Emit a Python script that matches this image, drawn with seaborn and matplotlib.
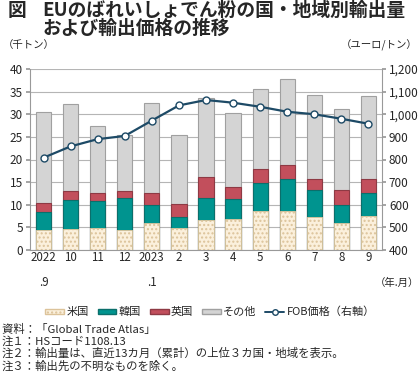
import numpy as np
import pandas as pd
import matplotlib
matplotlib.use("Agg")
import matplotlib.pyplot as plt
import seaborn as sns
from matplotlib.patches import Patch
from matplotlib.lines import Line2D

# データ
months = ["2022.9", "2022.10", "2022.11", "2022.12", "2023.1", "2023.2", "2023.3",
          "2023.4", "2023.5", "2023.6", "2023.7", "2023.8", "2023.9"]
tick_labels = ["2022\n.9", "10", "11", "12", "2023\n.1", "2", "3", "4", "5", "6", "7", "8", "9"]
us = [4.4, 4.6, 4.9, 4.5, 5.9, 4.8, 6.6, 6.85, 8.6, 8.6, 7.4, 6.0, 7.6]
korea = [3.9, 6.4, 5.85, 7.1, 4.1, 2.6, 5.0, 4.35, 6.1, 7.0, 5.8, 4.0, 5.1]
uk = [2.0, 2.0, 1.75, 1.4, 2.7, 2.8, 4.5, 2.65, 3.1, 3.1, 2.6, 3.3, 3.1]
total = [30.4, 32.2, 27.3, 25.5, 32.5, 25.5, 33.7, 30.2, 35.5, 37.7, 34.2, 31.2, 34.0]
fob = [808, 858, 890, 904, 972, 1039, 1063, 1051, 1033, 1011, 1000, 980, 958]

sns.set_theme(style="white")
plt.rcParams['font.family'] = ['Noto Sans CJK JP', 'DejaVu Sans']

df = pd.DataFrame({"month": months, "us": us, "korea": korea, "uk": uk, "total": total})
df["c_us"] = df["us"]
df["c_kr"] = df["us"] + df["korea"]
df["c_uk"] = df["c_kr"] + df["uk"]

fig = plt.figure(figsize=(4.2, 3.75), dpi=100)
ax = fig.add_axes([30 / 420, 125 / 375, 352 / 420, 181 / 375])

col_other, col_uk, col_kr, col_us = "#d4d4d4", "#c24f5c", "#00948f", "#fbf0dc"
w = 0.56
# 積み上げ（累積値を上から順に重ねる）
sns.barplot(data=df, x="month", y="total", color=col_other, width=w, ax=ax,
            edgecolor="#a0a0a0", linewidth=0.8, saturation=1)
sns.barplot(data=df, x="month", y="c_uk", color=col_uk, width=w, ax=ax,
            edgecolor="#8e3a44", linewidth=0.8, saturation=1)
sns.barplot(data=df, x="month", y="c_kr", color=col_kr, width=w, ax=ax,
            edgecolor="#0b6f6b", linewidth=0.8, saturation=1)
n = len(months)
sns.barplot(data=df, x="month", y="c_us", color=col_us, width=w, ax=ax,
            edgecolor="#dcc39a", linewidth=0.6, saturation=1)
for p in ax.patches[-n:]:
    p.set_hatch("....")

ax.set_ylim(0, 40)
ax.set_yticks(np.arange(0, 41, 5))
ax.yaxis.grid(True, color="#b5b5b5", linewidth=0.8)
ax.set_axisbelow(True)
ax.set_xlabel("")
ax.set_ylabel("")
ax.set_xticks(range(n))
ax.set_xticklabels(tick_labels, fontsize=8.3, linespacing=2.2, va="top")
ax.set_xticks(np.arange(-0.5, n, 1), minor=True)
ax.tick_params(axis="x", which="major", length=0, pad=1)
ax.tick_params(axis="x", which="minor", length=3, color="#999999", direction="inout")
ax.tick_params(axis="y", labelsize=8.5, length=3, color="#999999", pad=2)
for s in ["top", "right"]:
    ax.spines[s].set_visible(False)
for s in ["left", "bottom"]:
    ax.spines[s].set_color("#999999")
    ax.spines[s].set_linewidth(0.8)

# FOB価格（右軸）
ax2 = ax.twinx()
line_col = "#1d4a66"
sns.lineplot(x=np.arange(n), y=fob, ax=ax2, color=line_col, linewidth=1.6,
             marker="o", markersize=5, markerfacecolor="white",
             markeredgecolor=line_col, markeredgewidth=1.0)
ax2.set_ylim(400, 1200)
ax2.set_yticks(np.arange(400, 1201, 100))
ax2.set_yticklabels([f"{v:,}" for v in range(400, 1201, 100)])
ax2.tick_params(axis="y", labelsize=8.5, length=3, color="#999999", pad=2)
for s in ["top", "left", "bottom"]:
    ax2.spines[s].set_visible(False)
ax2.spines["right"].set_color("#999999")
ax2.spines["right"].set_linewidth(0.8)
ax.set_xlim(-0.5, n - 0.5)
ax2.set_xlim(-0.5, n - 0.5)

# タイトル・単位
fig.text(8 / 420, 1 - 1 / 375, "図", fontsize=13.5, fontweight="bold", va="top")
fig.text(42 / 420, 1 - 1 / 375, "EUのばれいしょでん粉の国・地域別輸出量\nおよび輸出価格の推移",
         fontsize=13.5, fontweight="bold", va="top", linespacing=0.95)
fig.text(3 / 420, 1 - 45 / 375, "（千トン）", fontsize=7.5, va="center")
fig.text(418 / 420, 1 - 45 / 375, "（ユーロ/トン）", fontsize=7.5, va="center", ha="right")
fig.text(419 / 420, 1 - 283 / 375, "（年.月）", fontsize=7.5, va="center", ha="right")

# 凡例
handles = [
    Patch(facecolor=col_us, edgecolor="#dcc39a", hatch="....", label="米国"),
    Patch(facecolor=col_kr, edgecolor="#0b6f6b", label="韓国"),
    Patch(facecolor=col_uk, edgecolor="#8e3a44", label="英国"),
    Patch(facecolor=col_other, edgecolor="#a0a0a0", label="その他"),
    Line2D([0], [0], color=line_col, linewidth=1.4, marker="o", markersize=4,
           markerfacecolor="white", markeredgecolor=line_col, label="FOB価格（右軸）"),
]
fig.legend(handles=handles, loc="center", bbox_to_anchor=(0.5, 1 - 312 / 375), ncol=5,
           frameon=False, fontsize=8, handlelength=1.7, handleheight=0.35,
           handletextpad=0.2, columnspacing=0.8)

# 注記
notes = ["資料：「Global Trade Atlas」",
         "注１：HSコード1108.13",
         "注２：輸出量は、直近13カ月（累計）の上位３カ国・地域を表示。",
         "注３：輸出先の不明なものを除く。"]
for i, t in enumerate(notes):
    fig.text(2 / 420, 1 - (329 + 12.3 * i) / 375, t, fontsize=8.2, va="center")

fig.savefig("out.png", dpi=100)
